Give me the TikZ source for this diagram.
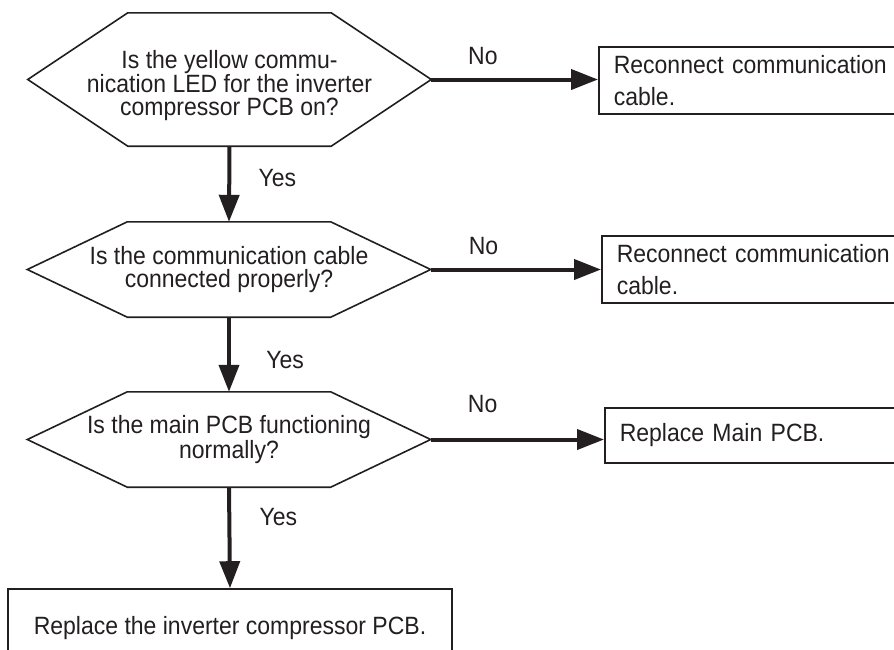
\documentclass[tikz,border=0pt]{standalone}
\usepackage{fontspec}
\setmainfont{Liberation Sans}[FakeStretch=0.92]
\usepackage{xcolor}
\usepackage{tikz}
\usetikzlibrary{arrows.meta}
\definecolor{inchiostro}{HTML}{231F20}

% hexagon round a question node: #1 node name, #2 chamfer
\newcommand\esagono[2]{%
  \draw[inchiostro,line width=1.6pt] (#1.west) -- ([xshift=#2]#1.north west)
    -- ([xshift=-#2]#1.north east) -- (#1.east) -- ([xshift=-#2]#1.south east)
    -- ([xshift=#2]#1.south west) -- cycle;}

\begin{document}
\begin{tikzpicture}[x=1pt,y=-1pt,
  every node/.style={text=inchiostro,font=\fontsize{25}{23}\selectfont},
  domanda/.style={minimum width=403pt,inner sep=0pt,align=center},
  azione/.style={draw=inchiostro,line width=1.6pt,anchor=west,text width=320pt,
    inner xsep=15pt,align=left,font=\fontsize{25}{32}\selectfont},
  freccia/.style={draw=inchiostro,line width=4pt,-{Triangle[length=27pt,width=20pt]}}]
  \path[use as bounding box,clip] (0,0) rectangle (894,649);

  % questions
  \node[domanda,minimum height=133pt] (ledq) at (229.5,79.5)
    {\rule{0pt}{30pt}Is the yellow commu-\\nication LED for the inverter\\compressor PCB on?};
  \node[domanda,minimum height=95pt] (cavoq) at (229,269.5)
    {Is the communication cable\\connected properly?};
  \node[domanda,minimum height=95pt] (pcbq) at (229,439.5)
    {Is the main PCB functioning\\normally?};
  \esagono{ledq}{100pt}
  \esagono{cavoq}{100pt}
  \esagono{pcbq}{100pt}

  % actions
  \node[azione,minimum height=67pt] (ricollega1) at (598,80.5) {Reconnect communication\\cable.};
  \node[azione,minimum height=67pt] (ricollega2) at (601,269.5) {Reconnect communication\\cable.};
  \node[azione,minimum height=55pt] (mainpcb) at (604,435.5) {Replace Main PCB.};
  \node[draw=inchiostro,line width=1.6pt,minimum width=444pt,minimum height=78pt] (inverter)
    at (230,628) {Replace the inverter compressor PCB.};

  % No
  \draw[freccia] (ledq.east) -- (ledq.east -| ricollega1.west) node[pos=.31,above=9pt] {No};
  \draw[freccia] (cavoq.east) -- (cavoq.east -| ricollega2.west) node[pos=.31,above=9pt] {No};
  \draw[freccia] (pcbq.east) -- (pcbq.east -| mainpcb.west) node[pos=.30,above=21pt] {No};

  % Yes
  \draw[freccia] (ledq.south) -- (cavoq.north) node[pos=.42,right=24pt] {Yes};
  \draw[freccia] (cavoq.south) -- (pcbq.north) node[pos=.57,right=32pt] {Yes};
  \draw[freccia] (pcbq.south) -- (inverter.north) node[pos=.30,right=25pt] {Yes};
\end{tikzpicture}
\end{document}
